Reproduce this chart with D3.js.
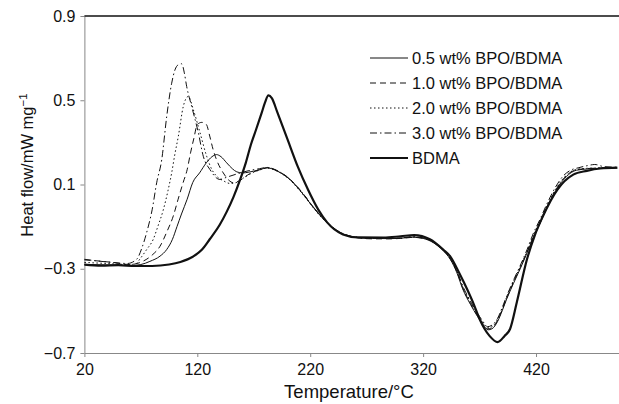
<!DOCTYPE html>
<html><head><meta charset="utf-8">
<script src="https://cdn.jsdelivr.net/npm/d3@7/dist/d3.min.js"></script>
<style>body{margin:0;background:#fff}svg{display:block;font-family:"Liberation Sans",Arial,sans-serif}</style>
</head><body>
<svg id="c" width="619" height="404"></svg>
<script>
const xTicks = [20, 120, 220, 320, 420];
const yTicks = [-0.7, -0.3, 0.1, 0.5, 0.9];
const seriesNames = ["0.5 wt% BPO/BDMA", "1.0 wt% BPO/BDMA", "2.0 wt% BPO/BDMA", "3.0 wt% BPO/BDMA", "BDMA"];

const bpo05 = [[20,-0.28],[40,-0.282],[60,-0.285],[70,-0.28],[78,-0.265],[87,-0.24],[93,-0.208],[98,-0.16],[102,-0.1],[106,-0.04],[111,0.03],[116,0.11],[122,0.155],[128,0.203],[133,0.232],[137,0.242],[141,0.232],[146,0.203],[151,0.175],[155,0.16],[160,0.155],[165,0.158],[175,0.17],[182,0.179],[190,0.166],[196,0.148],[202,0.124],[208,0.09],[214,0.052],[220,0.01],[226,-0.03],[231,-0.06],[240,-0.105],[246,-0.127],[255,-0.145],[262,-0.152],[275,-0.156],[290,-0.157],[300,-0.155],[311,-0.15],[320,-0.156],[329,-0.176],[337,-0.21],[344,-0.255],[350,-0.32],[355,-0.395],[362,-0.47],[368,-0.525],[373,-0.565],[377.5,-0.59],[381,-0.585],[386,-0.55],[390,-0.5],[394,-0.444],[400,-0.37],[406,-0.3],[412,-0.225],[417,-0.16],[424,-0.08],[430,-0.006],[437,0.066],[444,0.12],[450,0.152],[456,0.168],[466,0.174],[477,0.177],[492,0.178]];

const bpo10 = [[20,-0.258],[30,-0.262],[45,-0.27],[60,-0.28],[72,-0.264],[80,-0.235],[87,-0.193],[93,-0.125],[98.7,-0.05],[103,0.03],[107.5,0.11],[111,0.17],[114,0.25],[117,0.32],[120,0.385],[124,0.395],[128,0.385],[131,0.33],[134,0.266],[137,0.218],[143,0.155],[148,0.12],[152,0.108],[158,0.12],[166,0.15],[175,0.17],[182,0.18],[190,0.167],[196,0.15],[202,0.126],[208,0.093],[214,0.055],[220,0.012],[226,-0.028],[231,-0.058],[240,-0.104],[246,-0.126],[255,-0.146],[262,-0.153],[275,-0.158],[290,-0.158],[300,-0.156],[311,-0.151],[320,-0.155],[329,-0.174],[337,-0.208],[344,-0.252],[350,-0.315],[355,-0.39],[362,-0.465],[368,-0.52],[373,-0.56],[377,-0.585],[381,-0.58],[386,-0.545],[390,-0.495],[394,-0.44],[400,-0.365],[406,-0.295],[412,-0.222],[417,-0.155],[424,-0.075],[430,-0.002],[437,0.07],[444,0.125],[450,0.156],[456,0.17],[466,0.176],[477,0.178],[492,0.18]];

const bpo20 = [[20,-0.27],[40,-0.275],[60,-0.28],[66,-0.275],[69,-0.255],[75,-0.21],[81,-0.16],[85,-0.1],[90,-0.018],[94,0.07],[97.3,0.155],[100,0.24],[103.2,0.329],[107.6,0.471],[112,0.518],[116.5,0.455],[122.4,0.346],[128.3,0.234],[133,0.17],[137.2,0.139],[143,0.118],[149,0.105],[155,0.11],[162,0.135],[170,0.158],[176,0.17],[182,0.178],[190,0.165],[196,0.147],[202,0.122],[208,0.088],[214,0.05],[220,0.008],[226,-0.032],[231,-0.062],[240,-0.106],[246,-0.128],[255,-0.146],[262,-0.152],[275,-0.156],[290,-0.156],[300,-0.155],[311,-0.149],[320,-0.154],[329,-0.174],[337,-0.208],[344,-0.25],[350,-0.312],[355,-0.385],[362,-0.46],[368,-0.515],[373,-0.555],[377,-0.58],[381,-0.575],[386,-0.54],[390,-0.49],[394,-0.435],[400,-0.36],[406,-0.29],[412,-0.218],[417,-0.15],[424,-0.07],[430,0.002],[437,0.074],[444,0.128],[450,0.158],[456,0.172],[466,0.177],[477,0.179],[492,0.18]];

const bpo30 = [[20,-0.255],[30,-0.262],[45,-0.27],[58,-0.275],[66.3,-0.255],[71,-0.2],[75.2,-0.127],[80,-0.02],[84,0.108],[88.5,0.218],[92.9,0.423],[97.3,0.581],[100.2,0.644],[103,0.668],[106.2,0.673],[108.5,0.63],[110.6,0.565],[115,0.471],[120.9,0.346],[125.3,0.234],[131.2,0.171],[140,0.124],[146.3,0.135],[155,0.15],[165,0.165],[175,0.175],[182,0.181],[190,0.168],[196,0.15],[202,0.125],[208,0.092],[214,0.054],[220,0.012],[226,-0.028],[231,-0.058],[240,-0.103],[246,-0.125],[255,-0.144],[262,-0.15],[275,-0.155],[290,-0.156],[300,-0.154],[311,-0.148],[320,-0.153],[329,-0.172],[337,-0.205],[344,-0.248],[350,-0.31],[355,-0.38],[362,-0.455],[368,-0.51],[373,-0.55],[377,-0.575],[381,-0.568],[386,-0.535],[390,-0.485],[394,-0.43],[400,-0.355],[406,-0.285],[412,-0.21],[417,-0.14],[424,-0.06],[430,0.012],[437,0.085],[444,0.14],[450,0.166],[458,0.18],[466,0.19],[472,0.195],[480,0.185],[492,0.182]];

const bdma = [[20,-0.28],[35,-0.285],[50,-0.283],[65,-0.287],[80,-0.287],[95,-0.28],[105,-0.268],[116,-0.243],[124,-0.21],[131,-0.16],[140,-0.09],[146,-0.03],[152,0.04],[158,0.124],[163,0.204],[167.5,0.29],[172,0.36],[177,0.44],[180,0.49],[183,0.523],[186,0.51],[191,0.441],[200,0.313],[209,0.185],[218,0.076],[227,-0.018],[235,-0.08],[249,-0.137],[262,-0.151],[285,-0.152],[300,-0.146],[312,-0.14],[326,-0.16],[338,-0.21],[344,-0.241],[352,-0.32],[359,-0.397],[365,-0.47],[370,-0.539],[379,-0.62],[386,-0.648],[392,-0.62],[397,-0.586],[403,-0.459],[412,-0.255],[419,-0.14],[426,-0.052],[439,0.076],[453,0.147],[465,0.165],[477,0.176],[492,0.18]];

const allSeries = [bpo05, bpo10, bpo20, bpo30, bdma];
const dashes = [null, "6,4", "1.5,2.5", "7,3,1.5,3", null];
const widths = [1, 1, 1, 1, 2.2];

const svg = d3.select("#c");
const x = d3.scaleLinear().domain([20, 493.5]).range([84.4, 619]);
const y = d3.scaleLinear().domain([-0.7, 0.9]).range([353, 16]);
const fmt = d => (d < 0 ? "\u2212" + Math.abs(d).toFixed(1) : d.toFixed(1));

// axes
const gx = svg.append("g").attr("transform", "translate(0,353)")
  .call(d3.axisBottom(x).tickValues(xTicks).tickSize(4).tickSizeOuter(0).tickPadding(4));
const gy = svg.append("g").attr("transform", "translate(84.4,0)")
  .call(d3.axisLeft(y).tickValues(yTicks).tickFormat(fmt).tickSize(4).tickSizeOuter(0).tickPadding(5));
[gx, gy].forEach(g => {
  g.select(".domain").attr("stroke", "#888").attr("stroke-width", 1);
  g.selectAll(".tick line").attr("stroke", "#888");
  g.selectAll(".tick text").attr("fill", "#111").style("font-size", "16px").style("font-family", "'Liberation Sans', Arial, sans-serif");
});
gx.selectAll(".tick text").attr("dy", "0.85em");
svg.append("line").attr("x1", x(20)).attr("x2", 619).attr("y1", y(0.9)).attr("y2", y(0.9))
  .attr("stroke", "#111").attr("stroke-width", 1.3);

// lines
const line = d3.line().x(d => x(d[0])).y(d => y(d[1])).curve(d3.curveMonotoneX);
allSeries.forEach((s, i) => {
  svg.append("path").datum(s).attr("d", line).attr("fill", "none")
    .attr("stroke", "#111").attr("stroke-width", widths[i])
    .attr("stroke-dasharray", dashes[i]).attr("stroke-linejoin", "round");
});

// legend
const lg = svg.append("g");
seriesNames.forEach((n, i) => {
  const yy = 58 + i * 25;
  lg.append("line").attr("x1", 370).attr("x2", 408).attr("y1", yy).attr("y2", yy)
    .attr("stroke", "#111").attr("stroke-width", widths[i]).attr("stroke-dasharray", dashes[i]);
  lg.append("text").attr("x", 412).attr("y", yy).attr("dy", "0.36em")
    .attr("fill", "#111").style("font-size", "16.5px").text(n);
});

// titles
svg.append("text").attr("x", 349).attr("y", 398).attr("text-anchor", "middle")
  .attr("fill", "#111").style("font-size", "18.5px").text("Temperature/\u00B0C");
const yt = svg.append("text").attr("transform", "translate(33,165) rotate(-90)").attr("text-anchor", "middle")
  .attr("fill", "#111").style("font-size", "16.5px");
yt.append("tspan").text("Heat flow/mW mg");
yt.append("tspan").attr("dy", "-0.5em").style("font-size", "11.5px").text("\u22121");
</script>
</body></html>
